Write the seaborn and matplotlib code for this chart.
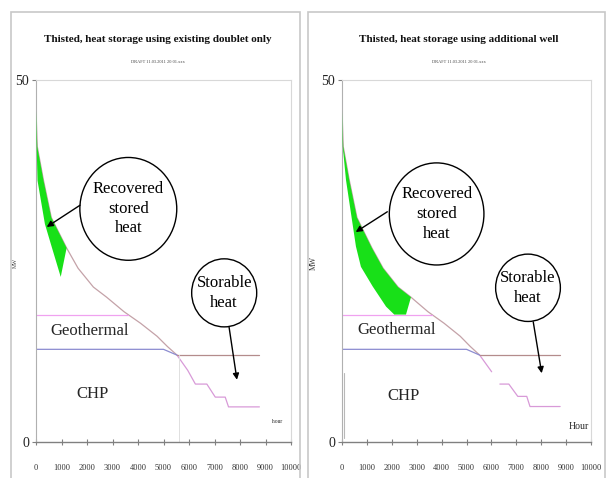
import numpy as np
import pandas as pd
import seaborn as sns
import matplotlib.pyplot as plt
from matplotlib.patches import Ellipse, Rectangle

# -------------------- data --------------------
hour_ticks = [0, 1000, 2000, 3000, 4000, 5000, 6000, 7000, 8000, 9000, 10000]
mw_ticks = [0, 50]

# load duration curve, upper part down to the CHP crossing
load_hours = [0, 50, 290, 600, 1200, 1650, 2250, 2770, 3450, 4100, 4750, 5150, 5530]
load_mw = [45.7, 40.8, 36.2, 31.0, 26.8, 24.0, 21.4, 20.0, 18.0, 16.4, 14.6, 13.2, 12.0]

# lower part (left panel drawn continuous, right panel has a gap)
tail_left_hours = [5530, 5950, 6250, 6700, 7030, 7420, 7550, 8760]
tail_left_mw = [12.0, 9.9, 8.0, 8.0, 6.2, 6.2, 4.85, 4.85]
tail_right_a_hours = [5530, 6010]
tail_right_a_mw = [12.0, 9.7]
tail_right_b_hours = [6340, 6700, 7060, 7420, 7550, 8760]
tail_right_b_mw = [8.0, 8.0, 6.3, 6.3, 4.9, 4.9]

# geothermal level
geo_hours = [0, 3600]
geo_mw = [17.6, 17.6]

# CHP level
chp_hours = [0, 5000, 5530]
chp_mw = [12.8, 12.8, 12.0]
base_hours = [5530, 8760]
base_mw = [12.0, 12.0]

# lower edge of the green "recovered stored heat" area
green_left_hours = [970, 620, 350, 60, 25, 0]
green_left_mw = [22.8, 26.9, 30.1, 36.1, 40.8, 45.7]
green_left_join = 5          # number of load points used for the upper edge
green_right_hours = [2570, 2100, 1770, 1230, 760, 560, 360, 160, 30, 0]
green_right_mw = [17.6, 17.6, 18.7, 21.5, 24.2, 27.0, 31.6, 36.2, 40.8, 45.7]
green_right_join = 8

marker_hour = 5620

titles = ["Thisted, heat storage using existing doublet only",
          "Thisted, heat storage using additional well"]
subtitle = "DRAFT 11.03.2011 20:01.xxx"

# -------------------- style --------------------
sns.set_theme(style="white")
plt.rcParams['font.family'] = ['Liberation Serif', 'DejaVu Serif']

c_green = '#18e018'
c_load = '#c4a2a8'
c_tail = '#d89ad8'
c_geo = '#f0a2f0'
c_chp = '#8c8cd0'
c_base = '#b48c8c'

fig = plt.figure(figsize=(6.08, 4.78), dpi=100)
W, H = 608.0, 478.0


def line(ax, x, y, color, lw=0.9):
    sns.lineplot(x=x, y=y, ax=ax, color=color, linewidth=lw,
                 estimator=None, sort=False)


def setup(ax):
    ax.set_xlim(0, 10000)
    ax.set_ylim(0, 50)
    ax.set_xticks(hour_ticks)
    ax.set_xticklabels([str(h) for h in hour_ticks])
    ax.set_yticks(mw_ticks)
    ax.tick_params(axis='x', direction='inout', length=5, width=0.8, pad=13,
                   labelsize=6, color='#808080', labelcolor='#333333', bottom=True)
    ax.tick_params(axis='y', direction='out', length=3, width=0.8, pad=2,
                   labelsize=10, color='#808080', labelcolor='#222222', left=True)
    for s in ['top', 'right']:
        ax.spines[s].set_color('#d8d8d8')
        ax.spines[s].set_linewidth(0.8)
    ax.spines['left'].set_color('#b0b0b0')
    ax.spines['left'].set_linewidth(0.8)
    ax.spines['bottom'].set_color('#808080')
    ax.spines['bottom'].set_linewidth(1.0)
    ax.set_xlabel('')
    ax.set_ylabel('')


def bubble(ax, cx, cy, w, h, text, size=12, ls=1.3):
    ax.add_patch(Ellipse((cx, cy), w, h, fill=False, ec='black', lw=1.0, zorder=5))
    ax.text(cx, cy, text, ha='center', va='center', fontsize=size,
            linespacing=ls, color='black', zorder=6)


def arrow(ax, tail, head):
    ax.annotate('', xy=head, xytext=tail,
                arrowprops=dict(arrowstyle='-|>', color='black', lw=1.0,
                                mutation_scale=9, shrinkA=0, shrinkB=0),
                zorder=6)


# -------------------- left panel --------------------
axL = fig.add_axes([36 / W, 1 - 442 / H, 255 / W, 362 / H])
line(axL, load_hours, load_mw, c_load)
line(axL, tail_left_hours, tail_left_mw, c_tail)
line(axL, geo_hours, geo_mw, c_geo)
line(axL, chp_hours, chp_mw, c_chp)
line(axL, base_hours, base_mw, c_base)
axL.plot([marker_hour, marker_hour], [0, base_mw[0]], color='#e0e0e0', lw=0.7)
gx = load_hours[:green_left_join] + green_left_hours
gy = load_mw[:green_left_join] + green_left_mw
axL.fill(gx, gy, color=c_green, lw=0, zorder=3)
setup(axL)

bubble(axL, 3620, 32.2, 3800, 14.2, "Recovered\nstored\nheat")
arrow(axL, (1725, 32.7), (420, 29.7))
bubble(axL, 7380, 20.6, 2550, 9.4, "Storable\nheat")
arrow(axL, (7570, 15.9), (7880, 8.6))
axL.text(2120, 15.3, "Geothermal", ha='center', va='center', fontsize=12)
axL.text(2200, 6.6, "CHP", ha='center', va='center', fontsize=12)
axL.text(9450, 2.8, "hour", ha='center', va='center', fontsize=4)

# -------------------- right panel --------------------
axR = fig.add_axes([342 / W, 1 - 442 / H, 249 / W, 362 / H])
line(axR, load_hours, load_mw, c_load)
line(axR, tail_right_a_hours, tail_right_a_mw, c_tail)
line(axR, tail_right_b_hours, tail_right_b_mw, c_tail)
line(axR, geo_hours, geo_mw, c_geo)
line(axR, chp_hours, chp_mw, c_chp)
line(axR, base_hours, base_mw, c_base)
gx = load_hours[:green_right_join] + green_right_hours
gy = load_mw[:green_right_join] + green_right_mw
axR.fill(gx, gy, color=c_green, lw=0, zorder=3)
setup(axR)

bubble(axR, 3800, 31.5, 3800, 14.1, "Recovered\nstored\nheat")
arrow(axR, (1820, 31.8), (550, 29.0))
bubble(axR, 7470, 21.3, 2600, 9.3, "Storable\nheat")
arrow(axR, (7680, 16.6), (8020, 9.5))
axR.text(2210, 15.5, "Geothermal", ha='center', va='center', fontsize=12)
axR.text(2450, 6.35, "CHP", ha='center', va='center', fontsize=12)
axR.text(9520, 2.1, "Hour", ha='center', va='center', fontsize=7)
# stray axis bracket left in the original picture
axR.plot([100, 100], [0.6, 9.5], color='#b8b8b8', lw=0.8)

# -------------------- frames, titles, axis names --------------------
fig.add_artist(Rectangle((11 / W, -0.05), (300 - 11) / W, 0.05 + 1 - 12 / H,
                         transform=fig.transFigure, fill=False, ec='#c8c8c8', lw=1.2))
fig.add_artist(Rectangle((308 / W, -0.05), (605 - 308) / W, 0.05 + 1 - 12 / H,
                         transform=fig.transFigure, fill=False, ec='#c8c8c8', lw=1.2))

for cx, t in zip([158, 459], titles):
    fig.text(cx / W, 1 - 40 / H, t, ha='center', va='center', fontsize=8,
             fontweight='bold', color='#111111')
    fig.text(cx / W, 1 - 62 / H, subtitle, ha='center', va='center', fontsize=3.2,
             color='#444444')

fig.text(15 / W, 1 - 263 / H, "MW", rotation=90, ha='center', va='center',
         fontsize=4, color='#444444')
fig.text(314 / W, 1 - 263 / H, "MW", rotation=90, ha='center', va='center',
         fontsize=5.5, color='#333333')

fig.savefig("out.png", dpi=100, facecolor='white')
